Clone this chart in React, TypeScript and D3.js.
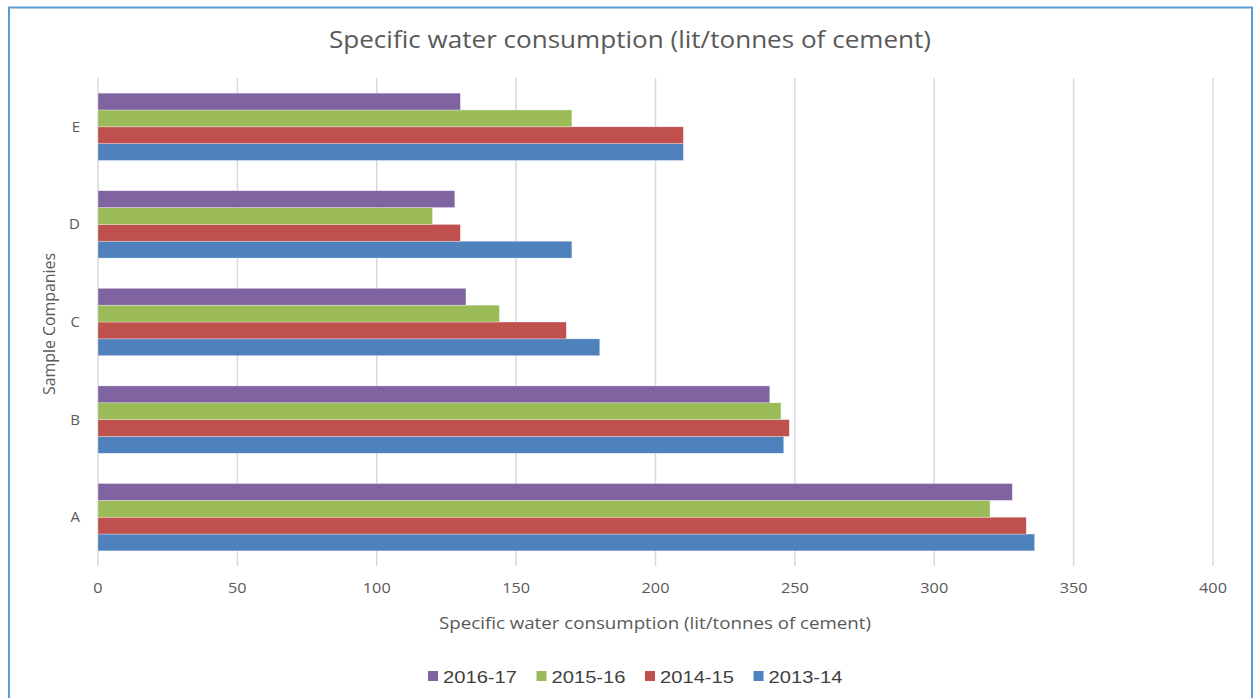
import React from "react";
import * as d3 from "d3";

const categories = ["A", "B", "C", "D", "E"];
const seriesNames = ["2013-14", "2014-15", "2015-16", "2016-17"];
const s2013 = [336, 246, 180, 170, 210];
const s2014 = [333, 248, 168, 130, 210];
const s2015 = [320, 245, 144, 120, 170];
const s2016 = [328, 241, 132, 128, 130];
const xTicks = [0, 50, 100, 150, 200, 250, 300, 350, 400];
const legendOrder = ["2016-17", "2015-16", "2014-15", "2013-14"];

const colors: Record<string, string> = {
  "2013-14": "#4F81BD",
  "2014-15": "#C0504D",
  "2015-16": "#9BBB59",
  "2016-17": "#8064A2",
};

const W = 1257;
const H = 698;
const left = 98;
const right = 1213;
const top = 78;
const bottom = 566;
const font = "'Open Sans', 'Noto Sans', sans-serif";

export default function App() {
  const values = [s2013, s2014, s2015, s2016];
  const x = d3.scaleLinear().domain([0, 400]).range([left, right]);
  const y = d3
    .scaleBand<string>()
    .domain([...categories].reverse())
    .range([top, bottom])
    .paddingInner(0.31)
    .paddingOuter(0.155);
  const inner = d3
    .scaleBand<string>()
    .domain([...seriesNames].reverse())
    .range([0, y.bandwidth()]);

  const legendX0 = 428;
  const legendStep = 108.5;

  return (
    <svg
      width={W}
      height={H}
      style={{ position: "fixed", left: 0, top: 0, background: "#fff" }}
    >
      <rect x={0} y={0} width={W} height={H} fill="#fff" />
      <rect x={9} y={7.5} width={1243} height={720} fill="none" stroke="#5B9BD5" strokeWidth={2} />
      <text
        x={630}
        y={48}
        textAnchor="middle"
        fontFamily={font}
        fontSize={23}
        fill="#595959"
        textLength={602}
        lengthAdjust="spacingAndGlyphs"
      >
        Specific water consumption (lit/tonnes of cement)
      </text>
      {xTicks.map((t) => (
        <g key={t}>
          <line x1={x(t)} x2={x(t)} y1={top} y2={bottom} stroke="#D9D9D9" strokeWidth={1.5} />
          <text
            x={x(t)}
            y={593}
            textAnchor="middle"
            fontFamily={font}
            fontSize={15}
            fill="#595959"
            textLength={String(t).length * 9.3}
            lengthAdjust="spacingAndGlyphs"
          >
            {t}
          </text>
        </g>
      ))}
      {categories.map((c, ci) => (
        <g key={c}>
          <text
            x={80}
            y={(y(c) as number) + y.bandwidth() / 2 + 5}
            textAnchor="end"
            fontFamily={font}
            fontSize={15}
            fill="#595959"
          >
            {c}
          </text>
          {seriesNames.map((s, si) => (
            <rect
              key={s}
              x={x(0)}
              y={(y(c) as number) + (inner(s) as number)}
              width={x(values[si][ci]) - x(0)}
              height={inner.bandwidth()}
              fill={colors[s]}
              stroke="#fff"
              strokeOpacity={0.5}
              strokeWidth={0.6}
            />
          ))}
        </g>
      ))}
      <text
        transform={`translate(55, ${(top + bottom) / 2 + 2}) rotate(-90)`}
        textAnchor="middle"
        fontFamily={font}
        fontSize={16}
        fill="#595959"
        textLength={142}
        lengthAdjust="spacingAndGlyphs"
      >
        Sample Companies
      </text>
      <text
        x={655}
        y={629}
        textAnchor="middle"
        fontFamily={font}
        fontSize={16}
        fill="#595959"
        textLength={432}
        lengthAdjust="spacingAndGlyphs"
      >
        Specific water consumption (lit/tonnes of cement)
      </text>
      {legendOrder.map((s, i) => (
        <g key={s} transform={`translate(${legendX0 + i * legendStep}, 0)`}>
          <rect x={0} y={671} width={10} height={10} fill={colors[s]} />
          <text
            x={15}
            y={683}
            fontFamily="'Liberation Sans', Arial, sans-serif"
            fontSize={16}
            fill="#404040"
            textLength={74}
            lengthAdjust="spacingAndGlyphs"
          >
            {s}
          </text>
        </g>
      ))}
    </svg>
  );
}
